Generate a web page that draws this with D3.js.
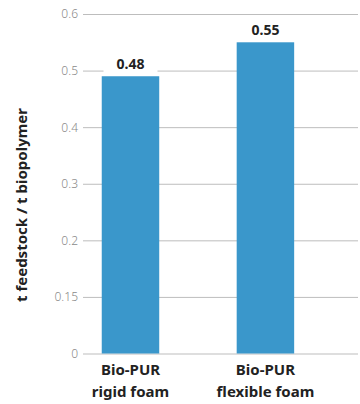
<!DOCTYPE html>
<html><head><meta charset="utf-8">
<script src="https://cdn.jsdelivr.net/npm/d3@7"></script>
<style>body{margin:0;background:#fff}svg{display:block}text{font-family:"Noto Sans","Open Sans",sans-serif}</style>
</head><body><svg id="c" width="360" height="404"></svg>
<script>
const categories = [["Bio-PUR","rigid foam"],["Bio-PUR","flexible foam"]];
const barValues = [0.49, 0.55];
const valueLabels = ["0.48", "0.55"];
const tickValues = [0, 0.1, 0.2, 0.3, 0.4, 0.5, 0.6];
const tickLabels = ["0", "0.15", "0.2", "0.3", "0.4", "0.5", "0.6"];
const yTitle = "t feedstock / t biopolymer";

(function(){
const svg = d3.select("#c");
const mLeft = 83, mRight = 358, mTop = 14, mBottom = 353.5;
const y = d3.scaleLinear().domain([0, 0.6]).range([mBottom, mTop]);
const x = d3.scaleBand().domain(categories.map((d,i)=>i)).range([mLeft, mRight])
  .paddingInner(0.574).paddingOuter(0.306).align(0.227);

const yAxis = d3.axisLeft(y).tickValues(tickValues).tickSize(-(mRight-mLeft)).tickPadding(4)
  .tickFormat((d,i)=>tickLabels[i]);
const g = svg.append("g").attr("transform",`translate(${mLeft},0)`).call(yAxis);
g.select(".domain").remove();
g.selectAll(".tick line").attr("stroke","#bdbdbd").attr("stroke-width",1);
g.selectAll(".tick text").attr("fill","#8a8a8a").attr("font-size","12px").attr("font-weight",300).attr("dx","-1");

svg.append("g").selectAll("rect").data(barValues).join("rect")
  .attr("x",(d,i)=>x(i)).attr("width",x.bandwidth())
  .attr("y",d=>y(d)).attr("height",d=>y(0)-y(d)).attr("fill","#3a97cb");

const lab = svg.append("g").selectAll("g").data(barValues).join("g")
  .attr("transform",(d,i)=>`translate(${x(i)+x.bandwidth()/2},${y(d)-7})`);
lab.append("rect").attr("x",-27).attr("y",-15).attr("width",54).attr("height",18).attr("fill","#fff");
lab.append("text").attr("text-anchor","middle").attr("font-size","14px").attr("font-weight",700)
  .attr("fill","#222").text((d,i)=>valueLabels[i]);

const cat = svg.append("g").selectAll("text").data(categories).join("text")
  .attr("text-anchor","middle").attr("font-size","15px").attr("font-weight",700).attr("fill","#222")
  .attr("transform",(d,i)=>`translate(${x(i)+x.bandwidth()/2},0)`);
cat.selectAll("tspan").data(d=>d).join("tspan").attr("x",0)
  .attr("y",(d,j)=>375+j*22).text(d=>d);

svg.append("text").attr("transform","translate(27,205) rotate(-90)")
  .attr("text-anchor","middle").attr("font-size","15px").attr("font-weight",700).attr("fill","#222")
  .text(yTitle);
})();
</script></body></html>
